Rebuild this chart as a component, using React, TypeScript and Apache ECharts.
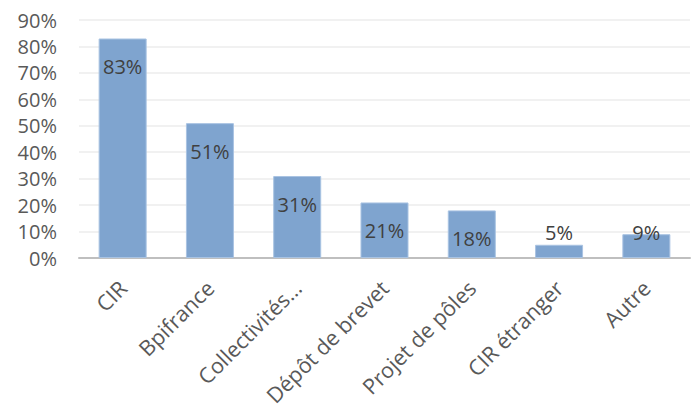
import React, { useEffect, useRef } from "react";
import * as echarts from "echarts";

const categories = ["CIR", "Bpifrance", "Collectivités…", "Dépôt de brevet", "Projet de pôles", "CIR étranger", "Autre"];
const values = [83, 51, 31, 21, 18, 5, 9];
const yTicks = [0, 10, 20, 30, 40, 50, 60, 70, 80, 90];

export default function App() {
  const ref = useRef<HTMLDivElement>(null);
  useEffect(() => {
    const chart = echarts.init(ref.current!, null, { renderer: "svg" });
    const font = "'Open Sans', sans-serif";
    chart.setOption({
      animation: false,
      grid: { left: 79, right: 10, top: 20, bottom: 150, containLabel: false, outerBoundsMode: "none" },
      xAxis: {
        type: "category",
        data: categories,
        axisLine: { lineStyle: { color: "#bfbfbf", width: 2 } },
        axisTick: { show: false },
        axisLabel: {
          rotate: 45,
          interval: 0,
          margin: 26,
          color: "#595959",
          fontSize: 21.5,
          fontFamily: font,
        },
      },
      yAxis: {
        type: "value",
        min: yTicks[0],
        max: yTicks[yTicks.length - 1],
        interval: 10,
        axisLine: { show: false },
        axisTick: { show: false },
        splitLine: { lineStyle: { color: "#ececec", width: 1.5 } },
        axisLabel: {
          formatter: (v: number) => v + "%",
          color: "#595959",
          fontSize: 20,
          fontFamily: font,
          margin: 22,
        },
      },
      series: [
        {
          type: "bar",
          barWidth: "55%",
          data: values.map((v) => {
            const small = v < 10;
            return {
              value: v,
              label: small
                ? { position: "top", distance: v < 7 ? 2 : -8 }
                : { position: "insideTop", distance: 18 },
            };
          }),
          itemStyle: { color: "#7fa4cf", borderColor: "#a9c3e2", borderWidth: 1 },
          label: {
            show: true,
            formatter: (p: any) => p.value + "%",
            color: "#404040",
            fontSize: 20,
            fontFamily: font,
          },
        },
      ],
    });
    return () => chart.dispose();
  }, []);
  return <div ref={ref} style={{ width: 700, height: 408, position: "absolute", left: 0, top: 0 }} />;
}
